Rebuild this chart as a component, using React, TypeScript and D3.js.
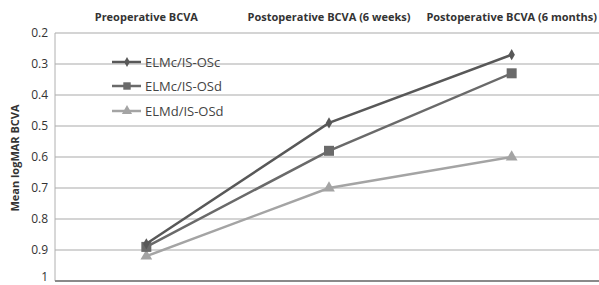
import React, { useEffect, useRef } from 'react';
import * as d3 from 'd3';

const categories = ['Preoperative BCVA', 'Postoperative BCVA (6 weeks)', 'Postoperative BCVA (6 months)'];
const seriesNames = ['ELMc/IS-OSc', 'ELMc/IS-OSd', 'ELMd/IS-OSd'];
const elmcIsosc = [0.88, 0.49, 0.27];
const elmcIsosd = [0.89, 0.58, 0.33];
const elmdIsosd = [0.92, 0.7, 0.6];
const yTicks = [0.2, 0.3, 0.4, 0.5, 0.6, 0.7, 0.8, 0.9, 1];

const seriesColors = ['#585858', '#6a6a6a', '#a4a4a4'];
const seriesShapes = [d3.symbolDiamond, d3.symbolSquare, d3.symbolTriangle];
const seriesSizes = [36, 100, 60];
const legendSizes = [28, 55, 45];

export default function App() {
  const svgRef = useRef<SVGSVGElement>(null);

  useEffect(() => {
    if (!svgRef.current) return;
    const width = 599;
    const height = 285;
    const margin = { top: 33, right: -4, bottom: 4, left: 55 };

    const svg = d3.select(svgRef.current);
    svg.selectAll('*').remove();
    svg.attr('width', width).attr('height', height);

    const x = d3
      .scaleBand()
      .domain(categories)
      .range([margin.left, width - margin.right]);

    const y = d3
      .scaleLinear()
      .domain([0.2, 1])
      .range([margin.top, height - margin.bottom]);

    const font = 'Open Sans, Liberation Sans, sans-serif';

    // gridlines
    svg
      .append('g')
      .selectAll('line')
      .data(yTicks.slice(0, -1))
      .enter()
      .append('line')
      .attr('x1', margin.left)
      .attr('x2', width)
      .attr('y1', (d) => y(d))
      .attr('y2', (d) => y(d))
      .attr('stroke', '#c6c6c6')
      .attr('stroke-width', 1.3);

    // left axis line
    svg
      .append('line')
      .attr('x1', margin.left)
      .attr('x2', margin.left)
      .attr('y1', y(0.2))
      .attr('y2', y(1))
      .attr('stroke', '#b0b0b0')
      .attr('stroke-width', 1);

    // bottom axis
    svg
      .append('line')
      .attr('x1', margin.left)
      .attr('x2', width)
      .attr('y1', y(1))
      .attr('y2', y(1))
      .attr('stroke', '#8a8a8a')
      .attr('stroke-width', 2);

    // y tick labels
    svg
      .append('g')
      .selectAll('text')
      .data(yTicks)
      .enter()
      .append('text')
      .attr('x', 48)
      .attr('y', (d) => y(d))
      .attr('dy', (d) => (d === 1 ? '0em' : '0.35em'))
      .attr('text-anchor', 'end')
      .attr('font-family', font)
      .attr('font-size', 12)
      .attr('fill', '#333')
      .text((d) => (d === 1 ? '1' : d.toFixed(1)));

    // category labels at top
    svg
      .append('g')
      .selectAll('text')
      .data(categories)
      .enter()
      .append('text')
      .attr('x', (d) => x(d)! + x.bandwidth() / 2)
      .attr('y', 21)
      .attr('text-anchor', 'middle')
      .attr('font-family', font)
      .attr('font-weight', 'bold')
      .attr('font-size', 11)
      .attr('fill', '#333')
      .text((d) => d);

    // y title
    svg
      .append('text')
      .attr('transform', `translate(19,158) rotate(-90)`)
      .attr('text-anchor', 'middle')
      .attr('font-family', font)
      .attr('font-weight', 'bold')
      .attr('font-size', 11)
      .attr('fill', '#333')
      .text('Mean logMAR BCVA');

    const data = [elmcIsosc, elmcIsosd, elmdIsosd];
    const line = d3
      .line<number>()
      .x((_, i) => x(categories[i])! + x.bandwidth() / 2)
      .y((d) => y(d));

    // draw light series first so darker ones are on top
    [2, 1, 0].forEach((s) => {
      const g = svg.append('g');
      g.append('path')
        .attr('d', line(data[s]))
        .attr('fill', 'none')
        .attr('stroke', seriesColors[s])
        .attr('stroke-width', 2.5);
      g.selectAll('path.mark')
        .data(data[s])
        .enter()
        .append('path')
        .attr('class', 'mark')
        .attr('d', d3.symbol(seriesShapes[s], seriesSizes[s])())
        .attr('transform', (d, i) => `translate(${x(categories[i])! + x.bandwidth() / 2},${y(d)})`)
        .attr('fill', seriesColors[s]);
    });

    // legend
    const legendY = [62, 86, 111];
    seriesNames.forEach((name, s) => {
      const g = svg.append('g').attr('transform', `translate(112,${legendY[s]})`);
      g.append('line')
        .attr('x1', 0)
        .attr('x2', 29)
        .attr('stroke', seriesColors[s])
        .attr('stroke-width', 2.5);
      g.append('path')
        .attr('d', d3.symbol(seriesShapes[s], legendSizes[s])())
        .attr('transform', 'translate(15,0)')
        .attr('fill', seriesColors[s]);
      g.append('text')
        .attr('x', 33)
        .attr('dy', '0.35em')
        .attr('font-family', font)
        .attr('font-size', 13)
        .attr('fill', '#444')
        .text(name);
    });
  }, []);

  return <svg ref={svgRef} style={{ position: 'absolute', left: 0, top: 0 }}></svg>;
}
